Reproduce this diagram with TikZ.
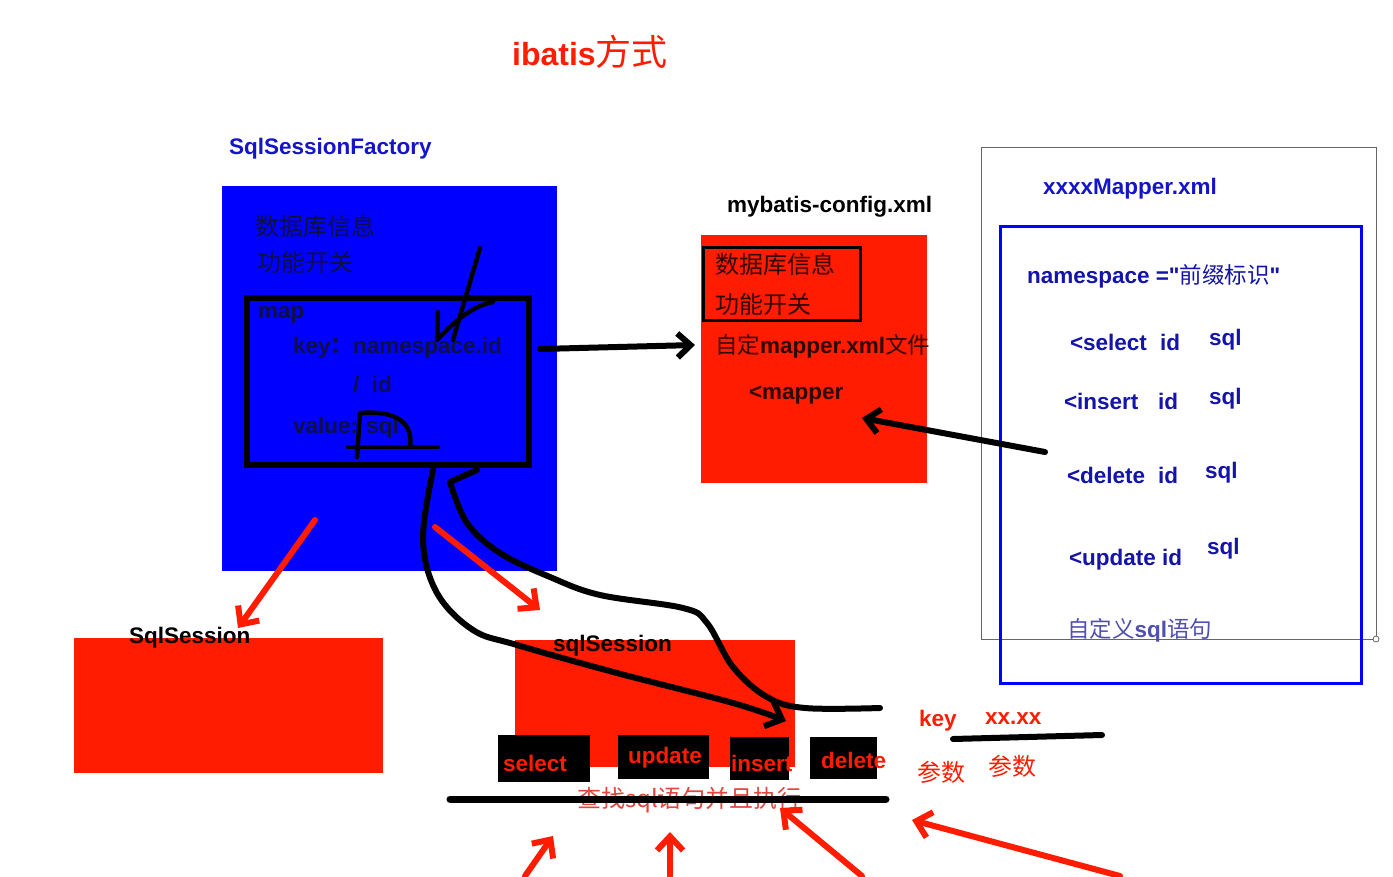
\documentclass[tikz,border=0pt]{standalone}
\usepackage{fontspec}
\setmainfont{Liberation Sans}
\newfontfamily\cjk{Noto Sans CJK SC}
\newfontfamily\qfont{Liberation Sans}[Ligatures=TeXOff]
\usetikzlibrary{arrows.meta}
\definecolor{pblue}{RGB}{0,0,255}
\definecolor{pred}{RGB}{255,28,0}
\definecolor{lblue}{RGB}{20,20,200}
\definecolor{dtext}{RGB}{15,15,70}
\definecolor{rtext}{RGB}{50,5,0}
\definecolor{mtext}{RGB}{20,20,170}
\definecolor{gtext}{RGB}{80,80,175}
\definecolor{ltred}{RGB}{225,70,60}
\tikzset{
  box/.style={inner sep=0pt, outer sep=0pt, anchor=north west},
  lbl/.style={inner sep=0pt, outer sep=0pt, anchor=west, font=\bfseries\fontsize{22.5}{24}\selectfont},
  cj/.style={inner sep=0pt, outer sep=0pt, anchor=west, font=\cjk\fontsize{24}{26}\selectfont},
  pen/.style={line width=6pt, line cap=round, line join=round, black},
  thinpen/.style={line width=4.5pt, line cap=round, line join=round, black},
  penarr/.style={pen, -{Straight Barb[length=13pt,width=24pt]}},
  redarr/.style={line width=6pt, pred, line cap=round, line join=round, -{Straight Barb[length=14pt,width=26pt]}}
}
\begin{document}
\begin{tikzpicture}[x=1pt,y=-1pt]
\useasboundingbox[fill=white] (0,0) rectangle (1393,876);

% title
\node[inner sep=0pt, anchor=west, text=pred] (title) at (512,52)
  {\bfseries\fontsize{32}{34}\selectfont ibatis{\cjk\mdseries\fontsize{36}{38}\selectfont 方式}};

% SqlSessionFactory
\node[lbl, text=lblue] (sqfl) at (229,149) {SqlSessionFactory};
\node[box, fill=pblue, minimum width=335pt, minimum height=385pt] (sqf) at (222,186) {};
\node[cj, text=dtext] (db1) at (255,226) {数据库信息};
\node[cj, text=dtext] (fn1) at (257,262) {功能开关};
\node[box, draw=black, line width=6pt, minimum width=282pt, minimum height=167pt] (mapbox) at (247,298) {};
\node[lbl, text=dtext] (mapt) at (258,315) {map};
\node[lbl, text=dtext] (keyt) at (293,348) {key{\cjk ：}namespace.id};
\node[lbl, text=dtext] (idt) at (353,385) {/\ \ id};
\node[lbl, text=dtext] (valt) at (293,428) {value: sql};

% pen marks inside map box
\coordinate (s1a) at (480,248);
\coordinate (s1b) at (453,340);
\draw[thinpen] (s1a) -- (s1b);
\coordinate (s2a) at (438,312);
\coordinate (s2b) at (437,340);
\coordinate (s2c) at (493,302);
\draw[thinpen] (s2a) -- (s2b) .. controls (455,320) and (475,305) .. (s2c);
\coordinate (p1) at (357,457);
\coordinate (p2) at (360,413);
\coordinate (p3) at (410,447);
\draw[thinpen] (p1) -- (p2) .. controls (400,410) and (413,425) .. (p3);
\coordinate (p4) at (348,447);
\coordinate (p5) at (438,447);
\draw[thinpen] (p4) -- (p5);

% mybatis-config
\node[lbl, text=black] (cfgl) at (727,207) {mybatis-config.xml};
\node[box, fill=pred, minimum width=226pt, minimum height=248pt] (cfg) at (701,235) {};
\node[box, draw=black, line width=3pt, minimum width=157pt, minimum height=73pt] (cfgin) at (703,247) {};
\node[cj, text=rtext] (db2) at (715,264) {数据库信息};
\node[cj, text=rtext] (fn2) at (715,304) {功能开关};
\node[lbl, text=rtext] (cm) at (715,346) {{\cjk\mdseries 自定}mapper.xml{\cjk\mdseries 文件}};
\node[lbl, text=rtext] (mp) at (749,395) {<mapper};

% arrow map -> config
\coordinate (a1s) at (540,349);
\coordinate (a1e) at (695,345);
\draw[penarr] (a1s) -- (a1e);

% xxxxMapper.xml
\node[box, draw=black!60, line width=1pt, minimum width=395pt, minimum height=492pt] (mo) at (981,147) {};
\draw[black!60, line width=0.8pt, fill=white] (1376,639) circle (3pt);
\node[lbl, text=lblue] (mxl) at (1043,189) {xxxxMapper.xml};
\node[box, draw=pblue, line width=3pt, minimum width=361pt, minimum height=457pt] (mi) at (1000,226) {};
\node[lbl, text=mtext] (ns) at (1027,276) {namespace ={\qfont\bfseries "}{\cjk\mdseries 前缀标识}{\qfont\bfseries "}};
\node[lbl, text=mtext] (sel) at (1070,342) {<select};
\node[lbl, text=mtext] (selid) at (1160,342) {id};
\node[lbl, text=mtext] (selsql) at (1209,340) {sql};
\node[lbl, text=mtext] (ins) at (1064,401) {<insert};
\node[lbl, text=mtext] (insid) at (1158,401) {id};
\node[lbl, text=mtext] (inssql) at (1209,399) {sql};
\node[lbl, text=mtext] (del) at (1067,475) {<delete};
\node[lbl, text=mtext] (delid) at (1158,475) {id};
\node[lbl, text=mtext] (delsql) at (1205,473) {sql};
\node[lbl, text=mtext] (upd) at (1069,560) {<update id};
\node[lbl, text=mtext] (updsql) at (1207,549) {sql};
\node[lbl, text=gtext] (cust) at (1067,630) {{\cjk\mdseries 自定义}sql{\cjk\mdseries 语句}};

% arrow mapper -> <mapper
\coordinate (a2s) at (1045,452);
\coordinate (a2e) at (862,418);
\draw[penarr] (a2s) -- (a2e);

% SqlSession left
\node[box, fill=pred, minimum width=309pt, minimum height=135pt] (ss1) at (74,638) {};
\node[lbl, text=black] (ss1l) at (129,638) {SqlSession};
\coordinate (r1s) at (315,520);
\coordinate (r1e) at (238,628);
\draw[redarr] (r1s) -- (r1e);

% sqlSession middle
\node[box, fill=pred, minimum width=280pt, minimum height=127pt] (ss2) at (515,640) {};
\node[lbl, text=black] (ss2l) at (553,646) {sqlSession};
\coordinate (r2s) at (435,527);
\coordinate (r2e) at (540,610);
\draw[redarr] (r2s) -- (r2e);

% curves
\coordinate (cA) at (433,470);
\coordinate (cAe) at (786,721);
\draw[pen, -{Straight Barb[length=14pt,width=26pt]}] plot[smooth, tension=0.6] coordinates {(433,470) (423,540) (437,593) (473,630) (517,645) (617,673) (733,703) (786,721)};
\coordinate (cB0) at (477,470);
\coordinate (cB) at (450,482);
\coordinate (cBe) at (880,708);
\draw[pen] (cB0) -- (cB);
\draw[pen] plot[smooth, tension=0.6] coordinates {(450,482) (467,523) (500,553) (550,577) (600,595) (683,608) (707,623) (733,667) (767,697) (805,708) (880,708)};

% buttons
\node[box, fill=black, minimum width=92pt, minimum height=47pt] (bsel) at (498,735) {};
\node[box, fill=black, minimum width=91pt, minimum height=44pt] (bupd) at (618,735) {};
\node[box, fill=black, minimum width=59pt, minimum height=43pt] (bins) at (730,737) {};
\node[box, fill=black, minimum width=67pt, minimum height=42pt] (bdel) at (810,737) {};
\node[lbl, text=pred] (tsel) at (503,763) {select};
\node[lbl, text=pred] (tupd) at (628,758) {update};
\node[lbl, text=pred] (tins) at (731,763) {insert};
\node[lbl, text=pred] (tdel) at (821,760) {delete};

% find sql text + line
\node[cj, text=ltred] (find) at (577,800) {查找sql语句并且执行};
\coordinate (l1a) at (450,799);
\coordinate (l1b) at (886,799);
\draw[line width=7pt, line cap=round, black] (l1a) -- (l1b);

% key / params
\node[lbl, text=pred] (keyr) at (919,721) {key};
\node[lbl, text=pred] (xx) at (985,719) {xx.xx};
\coordinate (l2a) at (953,739);
\coordinate (l2b) at (1102,735);
\draw[pen] (l2a) -- (l2b);
\node[cj, text=pred] (pa1) at (917,772) {参数};
\node[cj, text=pred] (pa2) at (988,766) {参数};

% bottom red arrows
\coordinate (b1s) at (525,876); \coordinate (b1e) at (553,836);
\coordinate (b2s) at (670,876); \coordinate (b2e) at (670,832);
\coordinate (b3s) at (862,876); \coordinate (b3e) at (780,808);
\coordinate (b4s) at (1120,876); \coordinate (b4e) at (912,820);
\draw[redarr] (b1s) -- (b1e);
\draw[redarr] (b2s) -- (b2e);
\draw[redarr] (b3s) -- (b3e);
\draw[redarr] (b4s) -- (b4e);
\end{tikzpicture}
\end{document}
